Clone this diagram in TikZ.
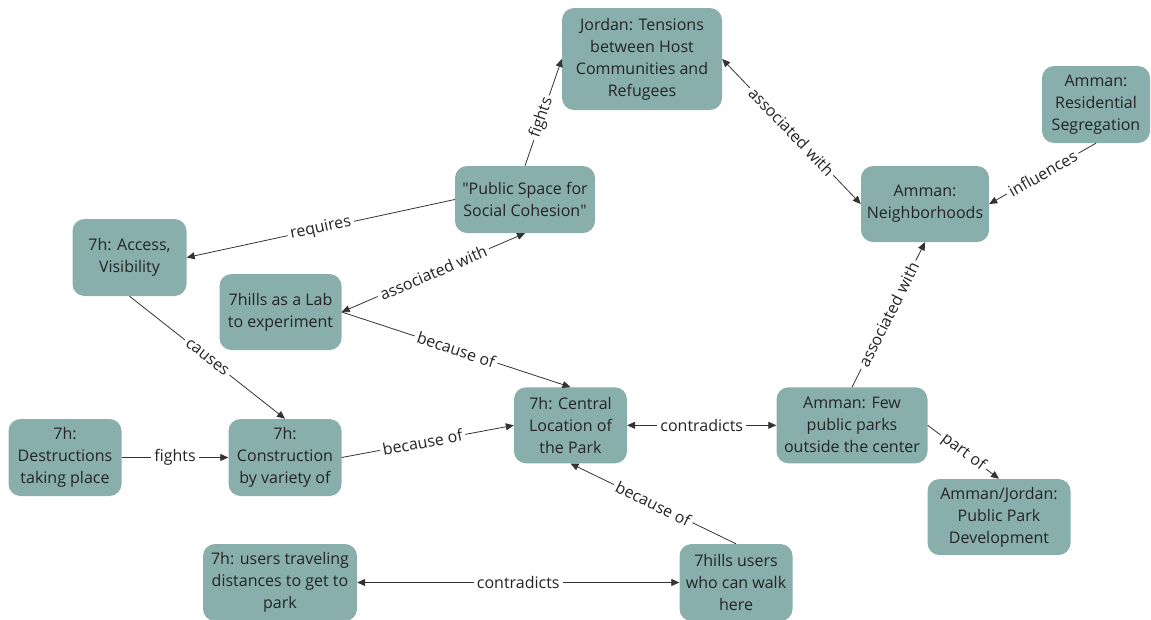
\documentclass[tikz,border=0pt]{standalone}
\usepackage{fontspec}
\setmainfont{Open Sans}
% same face without the TeX quote mapping, for straight double quotes
\newfontfamily\plainquote{Open Sans}[Ligatures=ResetAll]
\newcommand{\sq}{{\plainquote\char"22}}
\usetikzlibrary{arrows.meta}
\definecolor{boxfill}{HTML}{89AFAD}
\definecolor{ink}{HTML}{242424}
\definecolor{wire}{HTML}{333333}
\begin{document}
\begin{tikzpicture}[x=1pt,y=-1pt,
  concept/.style={fill=boxfill, rounded corners=12pt, align=center, text=ink,
    font=\fontsize{16}{22}\selectfont, inner sep=0pt},
  tipend/.style={-{Triangle[length=8pt,width=7pt]}},
  tipboth/.style={{Triangle[length=8pt,width=7pt]}-{Triangle[length=8pt,width=7pt]}},
  wireline/.style={draw=wire, line width=0.8pt},
  lbl/.style={fill=white, sloped, inner sep=3pt, text=ink,
    font=\fontsize{16}{18}\selectfont}]
\useasboundingbox (0,0) rectangle (1151,619);

% concepts
\node[concept, minimum width=160pt, minimum height=102pt] (jor) at (642,59)
  {Jordan: Tensions\\between Host\\Communities and\\Refugees};
\node[concept, minimum width=108pt, minimum height=77pt] (res) at (1096,104.5)
  {Amman:\\Residential\\Segregation};
\node[concept, minimum width=128pt, minimum height=76pt] (nbh) at (925,204)
  {Amman:\\Neighborhoods};
\node[concept, minimum width=140pt, minimum height=67pt] (pub) at (525,199.5)
  {\sq Public Space for\\Social Cohesion\sq};
\node[concept, minimum width=114pt, minimum height=77pt] (acc) at (129.5,257.5)
  {7h: Access,\\Visibility};
\node[concept, minimum width=122pt, minimum height=76pt] (lab) at (280.5,312)
  {7hills as a Lab\\to experiment};
\node[concept, minimum width=113pt, minimum height=77pt] (des) at (65,457.5)
  {7h:\\Destructions\\taking place};
\node[concept, minimum width=113pt, minimum height=77pt] (con) at (285,457.5)
  {7h:\\Construction\\by variety of};
\node[concept, minimum width=113pt, minimum height=76pt] (cen) at (570.5,425.3)
  {7h: Central\\Location of\\the Park};
\node[concept, minimum width=151pt, minimum height=76pt] (few) at (852,425.3)
  {Amman: Few\\public parks\\outside the center};
\node[concept, minimum width=143pt, minimum height=76pt] (aj) at (999,517)
  {Amman/Jordan:\\Public Park\\Development};
\node[concept, minimum width=154pt, minimum height=77pt] (trv) at (280,582.5)
  {7h: users traveling\\distances to get to\\park};
\node[concept, minimum width=113pt, minimum height=77pt] (usr) at (736,582.5)
  {7hills users\\who can walk\\here};

% links
\draw[wireline, tipend] (pub.north) -- node[lbl, pos=0.45] {fights} (jor.west);
\draw[wireline, tipend] (pub.west) -- node[lbl] {requires} (acc.east);
\draw[wireline, tipboth] (lab.east) -- node[lbl] {associated with} (pub.south);
\draw[wireline, tipend] (acc.south) -- node[lbl] {causes} (con.north);
\draw[wireline, tipend] (lab.east) -- node[lbl] {because of} (cen.north);
\draw[wireline, tipend] (con.east) -- node[lbl, pos=0.47] {because of} (cen.west);
\draw[wireline, tipend] (des.east) -- node[lbl] {fights} (con.west);
\draw[wireline, tipboth] (cen.east) -- node[lbl] {contradicts} (few.west);
\draw[wireline, tipend] (usr.north) -- node[lbl] {because of} (cen.south);
\draw[wireline, tipboth] (trv.east) -- node[lbl] {contradicts} (usr.west);
\draw[wireline, tipend] (few.north) -- node[lbl] {associated with} (nbh.south);
\draw[wireline, tipend] (few.east) -- node[lbl] {part of} (aj.north);
\draw[wireline, tipboth] (jor.east) -- node[lbl] {associated with} (nbh.west);
\draw[wireline, tipend] (res.south) -- node[lbl] {influences} (nbh.east);
\end{tikzpicture}
\end{document}
